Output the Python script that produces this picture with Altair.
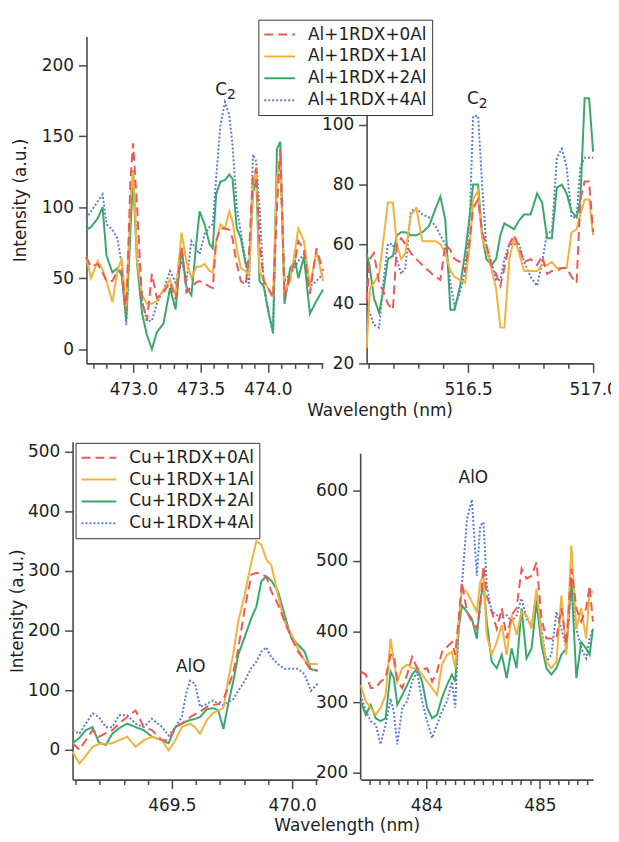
import altair as alt
import pandas as pd

FONT = "DejaVu Sans"
INK = "#1e1e1e"
AXIS_COL = "#4a4a4a"

TOP_SERIES = ["Al+1RDX+0Al", "Al+1RDX+1Al", "Al+1RDX+2Al", "Al+1RDX+4Al"]
BOT_SERIES = ["Cu+1RDX+0Al", "Cu+1RDX+1Al", "Cu+1RDX+2Al", "Cu+1RDX+4Al"]
COLORS = ["#ec5a55", "#f2b33e", "#3aa86b", "#5c7ad8"]
DASHES = [[9, 5], [1, 0], [1, 0], [2, 2]]

# ---------------- top-left panel (C2, ~473.6 nm) ----------------
tl_wl = [472.647, 472.684, 472.733, 472.770, 472.799, 472.843, 472.880, 472.912, 472.946, 472.978,
         472.997, 473.027, 473.064, 473.100, 473.137, 473.174, 473.223, 473.272, 473.313, 473.358,
         473.394, 473.431, 473.468, 473.492, 473.529, 473.566, 473.590, 473.615, 473.647, 473.681,
         473.713, 473.737, 473.769, 473.799, 473.835, 473.860, 473.889, 473.914, 473.938, 473.970,
         474.007, 474.039, 474.068, 474.093, 474.124, 474.166, 474.203, 474.227, 474.269, 474.313,
         474.362, 474.411]
tl_0al = [65, 58, 60, 54, 48, 48, 55, 55, 26, 120, 145, 100, 34, 20, 53, 36, 40, 47, 35, 72,
          40, 44, 47, 48, 46, 44, 43, 76, 85, 85, 84, 78, 60, 48, 45, 68, 122, 127, 75, 48,
          42, 36, 100, 141, 37, 52, 62, 76, 70, 39, 71, 55]
tl_1al = [65, 50, 62, 56, 48, 33, 55, 64, 28, 105, 125, 62, 38, 32, 32, 34, 42, 49, 38, 82,
          62, 50, 58, 58, 60, 55, 54, 75, 88, 85, 97, 90, 71, 57, 55, 52, 115, 128, 55, 48,
          42, 38, 120, 135, 40, 48, 70, 85, 76, 44, 69, 48]
tl_2al = [84, 86, 92, 100, 66, 54, 57, 52, 20, 85, 122, 60, 25, 10, 0, 12, 18, 43, 28, 71,
          44, 38, 75, 97, 88, 74, 71, 109, 118, 119, 123, 120, 85, 78, 60, 55, 110, 120, 48, 44,
          25, 12, 141, 146, 32, 57, 62, 50, 65, 25, 34, 42]
tl_4al = [92, 97, 104, 109, 88, 84, 78, 60, 17, 95, 126, 68, 34, 20, 20, 32, 42, 55, 47, 62,
          48, 76, 70, 67, 81, 86, 88, 120, 158, 174, 165, 144, 100, 82, 62, 44, 137, 132, 100, 45,
          25, 11, 118, 127, 48, 53, 58, 62, 67, 44, 48, 53]
tl_xticks = [472.7, 472.8, 472.9, 473.0, 473.1, 473.2, 473.3, 473.4, 473.5, 473.6,
             473.7, 473.8, 473.9, 474.0, 474.1, 474.2, 474.3, 474.4]
tl_yticks = [0, 50, 100, 150, 200]

# ---------------- top-right panel (C2, ~516.5 nm) ----------------
tr_wl = [516.094, 516.107, 516.123, 516.144, 516.162, 516.179, 516.199, 516.215, 516.232, 516.249,
         516.271, 516.293, 516.317, 516.343, 516.370, 516.389, 516.409, 516.429, 516.446, 516.468,
         516.488, 516.507, 516.520, 516.540, 516.556, 516.573, 516.593, 516.612, 516.629, 516.645,
         516.665, 516.684, 516.704, 516.724, 516.750, 516.776, 516.796, 516.816, 516.835, 516.855,
         516.875, 516.894, 516.914, 516.934, 516.949, 516.966, 516.984, 517.000]
tr_0al = [41, 55, 57, 47, 44, 40, 38, 60, 62, 60, 57, 55, 53, 51, 49, 48, 60, 58, 55, 54,
          51, 62, 72, 75, 64, 60, 53, 50, 46, 52, 60, 63, 59, 54, 55, 53, 56, 50, 51, 51,
          52, 52, 49, 47, 75, 81, 81, 64]
tr_1al = [25, 45, 47, 50, 62, 74, 74, 60, 55, 57, 70, 72, 61, 61, 61, 60, 57, 51, 49, 48,
          47, 60, 75, 78, 62, 58, 52, 45, 32, 32, 55, 62, 57, 51, 51, 51, 53, 53, 54, 52,
          52, 52, 64, 65, 70, 75, 75, 63]
tr_2al = [57, 52, 42, 37, 45, 55, 56, 63, 64, 64, 63, 63, 64, 66, 72, 76, 68, 38, 38, 46,
          57, 70, 80, 80, 63, 55, 53, 55, 63, 67, 66, 65, 68, 70, 70, 77, 74, 62, 62, 79,
          80, 77, 71, 69, 75, 109, 109, 91]
tr_4al = [39, 37, 33, 32, 48, 60, 60, 55, 50, 52, 71, 72, 70, 69, 66, 63, 60, 47, 39, 44,
          51, 70, 103, 103, 80, 59, 54, 48, 48, 55, 60, 60, 60, 54, 49, 46, 54, 64, 64, 89,
          92, 86, 69, 69, 86, 89, 89, 89]
tr_xticks = [516.1, 516.2, 516.3, 516.4, 516.5, 516.6, 516.7, 516.8, 516.9, 517.0]
tr_yticks = [20, 40, 60, 80, 100]

# ---------------- bottom-left panel (AlO, ~469.6 nm) ----------------
bl_wl = [469.087, 469.115, 469.142, 469.170, 469.197, 469.225, 469.252, 469.280, 469.314, 469.349,
         469.383, 469.417, 469.459, 469.486, 469.514, 469.541, 469.562, 469.576, 469.596, 469.617,
         469.645, 469.672, 469.693, 469.714, 469.734, 469.755, 469.776, 469.803, 469.831, 469.851,
         469.872, 469.893, 469.913, 469.941, 469.968, 469.996, 470.023, 470.051, 470.078, 470.106]
bl_0al = [11, 0, 16, 33, 22, 28, 33, 44, 55, 66, 38, 33, 16, 16, 38, 44, 50, 55, 60, 64,
          72, 75, 77, 85, 105, 130, 170, 238, 294, 297, 295, 290, 266, 244, 216, 188, 166, 150, 133, 133]
bl_1al = [-3, -23, -10, 5, 10, 10, 11, 16, 22, 5, 16, 22, 16, -1, 16, 38, 42, 44, 38, 27,
          50, 62, 66, 70, 118, 160, 216, 261, 316, 350, 344, 319, 310, 260, 215, 195, 170, 150, 144, 144]
bl_2al = [11, 20, 33, 38, 12, 8, 27, 36, 44, 38, 33, 22, 16, 11, 38, 44, 48, 50, 52, 55,
          68, 70, 66, 35, 77, 115, 160, 190, 222, 240, 283, 291, 284, 266, 227, 188, 177, 165, 135, 133]
bl_4al = [33, 27, 44, 61, 55, 38, 38, 58, 58, 44, 38, 52, 38, 24, 38, 55, 99, 116, 111, 72,
          77, 83, 77, 75, 80, 85, 99, 116, 138, 148, 165, 172, 155, 144, 136, 136, 136, 127, 99, 111]
bl_xticks = [469.1, 469.2, 469.3, 469.4, 469.5, 469.6, 469.7, 469.8, 469.9, 470.0, 470.1]
bl_yticks = [0, 100, 200, 300, 400, 500]

# ---------------- bottom-right panel (AlO, ~484.2 nm) ----------------
br_wl = [483.421, 483.465, 483.509, 483.553, 483.596, 483.640, 483.684, 483.713, 483.743, 483.787,
         483.830, 483.874, 483.918, 483.962, 484.006, 484.050, 484.094, 484.137, 484.181, 484.225,
         484.254, 484.284, 484.313, 484.357, 484.401, 484.444, 484.474, 484.503, 484.532, 484.576,
         484.620, 484.664, 484.708, 484.751, 484.795, 484.839, 484.883, 484.927, 484.971, 485.015,
         485.058, 485.102, 485.146, 485.190, 485.234, 485.278, 485.322, 485.365, 485.409, 485.439,
         485.468]
br_0al = [343, 339, 320, 320, 329, 334, 367, 367, 329, 320, 339, 364, 348, 346, 348, 329, 343, 371, 378, 385,
          367, 418, 470, 428, 414, 404, 433, 493, 451, 428, 404, 433, 390, 423, 433, 489, 475, 479, 498, 418,
          390, 390, 390, 433, 381, 489, 433, 414, 433, 465, 414]
br_1al = [324, 301, 292, 282, 292, 310, 390, 357, 329, 348, 353, 348, 348, 339, 329, 320, 310, 353, 367, 371,
          348, 414, 461, 456, 442, 428, 470, 479, 395, 367, 385, 409, 367, 423, 395, 428, 423, 404, 461, 395,
          357, 348, 357, 451, 367, 522, 404, 433, 390, 456, 456]
br_2al = [301, 282, 296, 277, 273, 277, 343, 334, 296, 310, 324, 339, 348, 329, 292, 277, 282, 306, 324, 339,
          329, 404, 437, 428, 418, 390, 442, 470, 414, 357, 348, 367, 334, 376, 348, 433, 362, 376, 442, 381,
          348, 339, 348, 367, 376, 475, 334, 385, 376, 367, 404]
br_4al = [310, 287, 273, 268, 240, 268, 305, 285, 240, 292, 301, 329, 343, 301, 273, 249, 268, 287, 301, 329,
          292, 404, 465, 559, 587, 479, 550, 555, 465, 428, 423, 418, 423, 414, 423, 447, 418, 409, 451, 404,
          357, 367, 428, 404, 376, 461, 404, 376, 362, 390, 404]
br_xticks = [483.5, 483.5833, 483.6667, 483.75, 483.8333, 483.9167, 484.0, 484.0833, 484.1667, 484.25,
             484.3333, 484.4167, 484.5, 484.5833, 484.6667, 484.75, 484.8333, 484.9167, 485.0, 485.0833,
             485.1667, 485.25, 485.3333, 485.4167]
br_yticks = [200, 300, 400, 500, 600]
br_axis_span = [190, 652]

MAJOR_HALF = "abs(datum.value*2-round(datum.value*2))<0.001"
MAJOR_INT = "abs(datum.value-round(datum.value))<0.001"


def to_long(wl, names, series_vals):
    rows = []
    for k in (3, 2, 1, 0):  # 0Al drawn last (on top)
        for w, v in zip(wl, series_vals[k]):
            rows.append({"wl": w, "intensity": v, "series": names[k]})
    return pd.DataFrame(rows)


def ghost(x, y1, y2):
    return alt.Chart(pd.DataFrame({"g": [0]})).mark_rule(
        stroke="#ffffff", strokeOpacity=0, strokeWidth=1
    ).encode(x=alt.value(x), x2=alt.value(x), y=alt.value(y1), y2=alt.value(y2))


def make_legend(lx, ly, sym):
    return alt.Legend(
        orient="none", legendX=lx, legendY=ly, title=None,
        symbolType="stroke", symbolSize=sym, symbolStrokeWidth=2,
        labelFont=FONT, labelFontSize=17, labelColor=INK,
        fillColor="white", strokeColor="#333333", padding=5,
        clipHeight=20, rowPadding=2, labelOffset=12, labelLimit=300,
    )


def make_panel(df, names, xdom, ydom, w, h, xticks, yticks, major, fmt,
               ytitle, xtitle, legend, ghost_layer, notes, y_span=None):
    x_axis = alt.Axis(
        values=xticks,
        labelExpr=f"{major} ? format(datum.value, '{fmt}') : ''",
        tickSize={"condition": {"test": major, "value": 9}, "value": 5},
        labelOverlap=False, labelFlush=False, labelPadding=9, grid=False, **xtitle,
    )
    y_axis = alt.Axis(values=yticks, tickSize=8, labelPadding=5, labelOverlap=False,
                      labelFlush=False, grid=False, domain=(y_span is None), **ytitle)
    x_scale = alt.Scale(domain=xdom, nice=False, zero=False)
    y_scale = alt.Scale(domain=ydom, nice=False, zero=False)
    x_enc = alt.X("wl:Q", scale=x_scale, axis=x_axis)
    y_enc = alt.Y("intensity:Q", scale=y_scale, axis=y_axis)

    lines = alt.Chart(df).mark_line(strokeWidth=2).encode(
        x=x_enc, y=y_enc,
        color=alt.Color("series:N", scale=alt.Scale(domain=names, range=COLORS), legend=legend),
        strokeDash=alt.StrokeDash("series:N", scale=alt.Scale(domain=names, range=DASHES), legend=legend),
    )
    layers = [ghost_layer]
    if y_span is not None:
        layers.append(
            alt.Chart(pd.DataFrame({"lo": [y_span[0]], "hi": [y_span[1]]})).mark_rule(
                color=AXIS_COL, strokeWidth=1.6
            ).encode(x=alt.value(0), y=alt.Y("lo:Q", scale=y_scale, axis=y_axis), y2="hi:Q")
        )
    layers.append(lines)
    for (wl, inten, label, size, dx, dy, align) in notes:
        layers.append(
            alt.Chart(pd.DataFrame({"wl": [wl], "intensity": [inten], "label": [label]})).mark_text(
                font=FONT, fontSize=size, color=INK, align=align, baseline="alphabetic", dx=dx, dy=dy
            ).encode(x=x_enc, y=y_enc, text="label:N")
        )
    return alt.layer(*layers).properties(width=w, height=h)


NO_T = dict(title=None)

tl = make_panel(
    to_long(tl_wl, TOP_SERIES, [tl_0al, tl_1al, tl_2al, tl_4al]), TOP_SERIES,
    [472.65, 474.41], [-10, 220.07], 238, 329, tl_xticks, tl_yticks, MAJOR_HALF, ".1f",
    dict(title="Intensity (a.u.)", titleX=-66, titleY=164.5, titleAngle=270,
         titleAlign="center", titleBaseline="middle"),
    NO_T, None, ghost(-79, -26, 408),
    [(473.652, 179, "C", 17, 0, 0, "center"), (473.652, 179, "2", 14, 6, 4, "left")],
)

tr = make_panel(
    to_long(tr_wl, TOP_SERIES, [tr_0al, tr_1al, tr_2al, tr_4al]), TOP_SERIES,
    [516.094, 517.0], [20, 129.67], 228, 329, tr_xticks, tr_yticks, MAJOR_HALF, ".1f",
    NO_T,
    dict(title="Wavelength (nm)", titleX=13, titleY=52, titleAlign="center",
         titleBaseline="alphabetic"),
    make_legend(-109, -17, 961), ghost(-115, 0, 1),
    [(516.519, 107, "C", 17, 0, 0, "center"), (516.519, 107, "2", 14, 6, 4, "left")],
)

bl = make_panel(
    to_long(bl_wl, BOT_SERIES, [bl_0al, bl_1al, bl_2al, bl_4al]), BOT_SERIES,
    [469.087, 470.107], [-50, 516.7], 247, 340, bl_xticks, bl_yticks, MAJOR_HALF, ".1f",
    dict(title="Intensity (a.u.)", titleX=-55, titleY=170, titleAngle=270,
         titleAlign="center", titleBaseline="middle"),
    NO_T, make_legend(3, 1, 1225), ghost(-65, 10, 11),
    [(469.578, 130, "AlO", 17, 0, 0, "center")],
)

br = make_panel(
    to_long(br_wl, BOT_SERIES, [br_0al, br_1al, br_2al, br_4al]), BOT_SERIES,
    [483.42, 485.47], [190, 668.9], 234, 340, br_xticks, br_yticks, MAJOR_INT, "d",
    NO_T,
    dict(title="Wavelength (nm)", titleX=-14, titleY=51, titleAlign="center",
         titleBaseline="alphabetic"),
    None, ghost(-99, 10, 11),
    [(484.414, 611, "AlO", 17, 0, 0, "center")],
    y_span=br_axis_span,
)

spacer = alt.Chart(pd.DataFrame({"g": [0]})).mark_rule(strokeOpacity=0).encode(
    x=alt.value(0), y=alt.value(0), y2=alt.value(1)).properties(width=1, height=1)

RES = dict(color="independent", strokeDash="independent")

inner_top = alt.hconcat(tl, tr, spacing=-76).resolve_scale(**RES).resolve_legend(**RES)
top = alt.hconcat(spacer, inner_top, spacing=-66).resolve_scale(**RES).resolve_legend(**RES)
bottom = alt.hconcat(bl, br, spacing=-60).resolve_scale(**RES).resolve_legend(**RES)

chart = alt.vconcat(top, bottom, spacing=0).resolve_scale(**RES).resolve_legend(**RES).properties(
    padding={"left": 0, "top": 0, "right": -7, "bottom": 0}
).configure_view(strokeWidth=0).configure_axis(
    domainColor=AXIS_COL, domainWidth=1.6, tickColor=AXIS_COL, tickWidth=1.5,
    labelFont=FONT, labelFontSize=17, labelColor=INK,
    titleFont=FONT, titleFontSize=17, titleFontWeight="normal", titleColor=INK,
)

chart.save("out.html", embed_options={"renderer": "svg", "actions": False})
